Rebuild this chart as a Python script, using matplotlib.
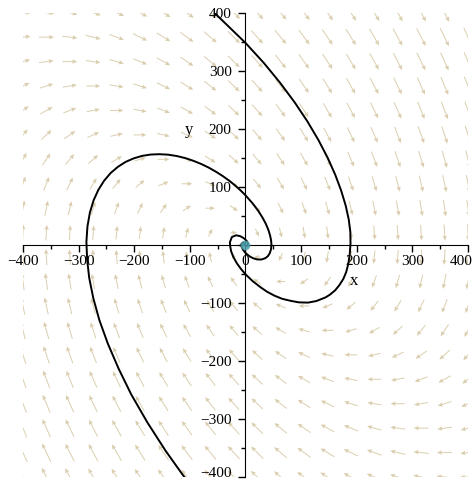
import numpy as np
import matplotlib.pyplot as plt
from matplotlib.ticker import MultipleLocator, FuncFormatter

# ----------------------------------
# SYSTEM  dx/dt = a*x + b*y ,  dy/dt = c*x + d*y
# ----------------------------------
A_COEF = [0.0, 1.0]    # a, b
C_COEF = [-1.0, -1.0]  # c, d
N_GRID = 20
LIM = 400

# trajectory (two arms spiralling into the origin)
arm1_x = [-56, 0, 33.1, 62.6, 88.8, 111.7, 131.3, 147.8, 161.3, 172.0,
          180.1, 185.6, 188.5, 188.8, 187.4, 184.9, 181.0, 176.0, 168.5,
          161.0, 151.8, 144.0, 127.4, 112.5, 96.1, 81.5, 65.8, 52.0, 38.8,
          27.0, 13.0, 1.4, -7.9, -15.3, -21.9, -25.9, -27.5, -28.0, -24.5,
          -17.0, -9.5, -2.8, 2.0, 4.4, 4.5, 1.9, 0]
arm1_y = [400, 348, 313.3, 278.8, 245.0, 212.1, 180.3, 149.9, 120.9, 93.5,
          67.8, 43.9, 21.8, 1.7, -16.2, -32.5, -47.0, -58.5, -69.8,
          -78.5, -85.8, -90.5, -96.8, -99.5, -99.1, -96.5, -92.9, -87.5, -80.8,
          -73.0, -62.6, -52.0, -41.8, -32.1, -20.8, -10.8, -2.4, 4.5, 13.5,
          16.5, 15.0, 11.3, 7.0, 2.9, -2.0, -2.6, 0]

arm2_x = [-84.9, -113.7, -143.5, -176.3, -205.3, -228.0, -247.4, -262.8,
          -273.6, -281.0, -284.7, -286.0, -284.1, -279.7, -273.1, -264.4,
          -254.1, -242.4, -229.4, -215.6, -201.0, -185.9, -170.4, -154.8,
          -139.2, -123.8, -108.6, -93.9, -79.7, -66.1, -53.1, -40.8, -29.4,
          -18.7, -8.9, 0, 11.8, 21.8, 29.9, 36.3, 41.0, 44.1, 46.0, 46.7,
          45.8, 43.6, 40.1, 35.8, 28.5, 20.9, 13.6, 7.2, 0.4, -4.2, -7.2,
          -7.5, -4.4, 0]
arm2_y = [-431.0, -395.1, -355.0, -306.1, -257.9, -213.5, -170.3, -129.4,
          -91.8, -56.7, -24.8, 5.3, 31.9, 55.7, 76.7, 95.0, 110.6, 123.8,
          134.4, 142.9, 149.0, 153.3, 155.6, 156.2, 155.4, 153.1, 149.6,
          144.9, 139.4, 133.1, 126.0, 118.5, 110.6, 102.3, 93.9, 85.4, 72.6,
          60.1, 48.1, 36.8, 26.2, 16.6, 8.0, 0.4, -8.0, -14.6, -19.6, -22.9,
          -25.3, -25.1, -23.0, -19.7, -14.3, -8.8, -2.9, 1.2, 4.2, 0]


def fmt(v):
    return f"{int(v)}".replace("-", "\u2212")


# ----------------------------------
# FIGURE
# ----------------------------------
fig = plt.figure(figsize=(4.73, 4.83), dpi=100)
ax = fig.add_axes([0.0486, 0.0124, 0.9408, 0.9613])

# direction field
gx = np.linspace(-LIM, LIM, N_GRID)
X, Y = np.meshgrid(gx, gx)
U = A_COEF[0] * X + A_COEF[1] * Y
V = C_COEF[0] * X + C_COEF[1] * Y
mag = np.hypot(U, V)
mag[mag == 0] = 1
length = 36 * (mag / mag.max()) ** 0.3
ax.quiver(X, Y, U / mag * length, V / mag * length,
          angles="xy", scale_units="xy", scale=1, pivot="mid",
          color="#d2c29a", alpha=0.8, width=0.0022,
          headwidth=4.5, headlength=5, headaxislength=4.5, zorder=1)

# trajectory
ax.plot(arm1_x, arm1_y, color="black", lw=1.4, zorder=3,
        solid_joinstyle="round")
ax.plot(arm2_x, arm2_y, color="black", lw=1.4, zorder=3,
        solid_joinstyle="round")
ax.plot([0], [0], "o", ms=7, color="#4ea6b2", alpha=0.85, mec="none",
        zorder=4)

# ----------------------------------
# AXES
# ----------------------------------
ax.set_xlim(-LIM, LIM)
ax.set_ylim(-LIM, LIM)
for s in ["top", "right"]:
    ax.spines[s].set_visible(False)
ax.spines["left"].set_position("zero")
ax.spines["bottom"].set_position("zero")
ax.spines["left"].set_zorder(2)
ax.spines["bottom"].set_zorder(2)

ax.xaxis.set_major_locator(MultipleLocator(100))
ax.yaxis.set_major_locator(MultipleLocator(100))
ax.xaxis.set_minor_locator(MultipleLocator(50))
ax.yaxis.set_minor_locator(MultipleLocator(50))
# the labels at the figure edge are placed by hand below so they stay inside
ax.yaxis.set_major_formatter(
    FuncFormatter(lambda v, p: "" if v in (0, -LIM) else fmt(v)))
ax.xaxis.set_major_formatter(
    FuncFormatter(lambda v, p: "" if v == LIM else fmt(v)))

ax.tick_params(which="major", length=5, width=1, labelsize=11)
ax.tick_params(which="minor", length=3, width=1)
ax.tick_params(axis="x", pad=2)
ax.tick_params(axis="y", pad=5)
for lab in ax.get_xticklabels() + ax.get_yticklabels():
    lab.set_family("Liberation Serif")

ax.annotate(fmt(LIM), xy=(LIM, 0), xytext=(3, -7), textcoords="offset points",
            ha="right", va="top", fontsize=11, family="Liberation Serif")
ax.annotate(fmt(-LIM), xy=(0, -LIM), xytext=(-10, -2),
            textcoords="offset points", ha="right", va="bottom",
            fontsize=11, family="Liberation Serif")

ax.text(196, -63, "x", fontsize=12, family="Liberation Serif",
        ha="center", va="center")
ax.text(-102, 198, "y", fontsize=12, family="Liberation Serif",
        ha="center", va="center")

fig.savefig("out.png", dpi=100)
